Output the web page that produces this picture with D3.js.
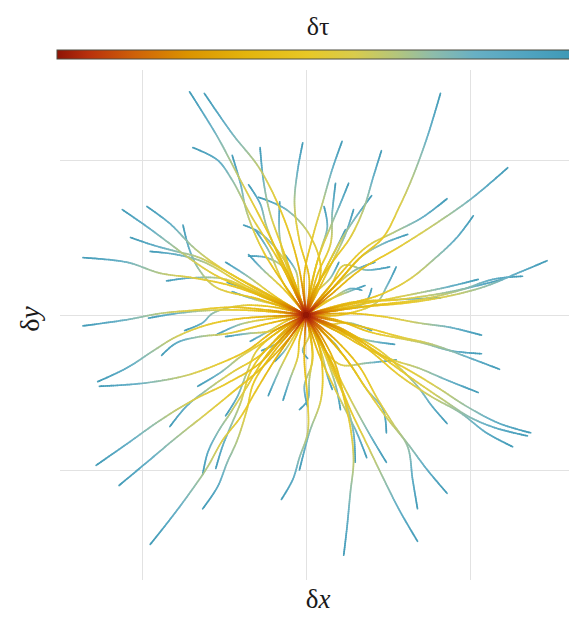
<!DOCTYPE html>
<html>
<head>
<meta charset="utf-8">
<script src="https://cdn.jsdelivr.net/npm/d3@7"></script>
<style>
  body { margin: 0; background: #fff; }
  svg { display: block; }
</style>
</head>
<body>
<script>
// Grid ticks (same on both axes, no labels drawn)
const gridTicks = [-1, 0, 1];

// Colour map for the elapsed time δτ (0 = start, 1 = end of a trajectory)
const tauStops  = [0, 0.06, 0.15, 0.25, 0.36, 0.48, 0.57, 0.65, 0.72, 0.80, 0.90, 1];
const tauColors = ["#8e1406", "#b8300c", "#cf6208", "#db9300", "#e3b40c", "#e8c826",
                   "#d9cc4c", "#b4c67c", "#8ebcaa", "#68b0c4", "#50a4c0", "#3b97b4"];

// Elapsed time against the fraction of path length covered (fast start, slow end)
const pathFraction = [0, 0.08, 0.18, 0.55, 0.78, 1];
const tauAtFraction = [0, 0.2, 0.36, 0.56, 0.76, 1];

// Trajectories: displacement (δx, δy) sampled along each path, starting from the origin.
const tracksNW = [
  [[-0.12,0.29],[-0.26,0.59],[-0.40,0.87],[-0.54,1.15],[-0.71,1.44]],
  [[-0.04,0.29],[-0.13,0.61],[-0.28,0.94],[-0.45,1.17],[-0.62,1.43]],
  [[-0.16,0.34],[-0.34,0.65],[-0.45,0.87],[-0.54,1.00],[-0.69,1.08]],
  [[-0.25,0.39],[-0.36,0.66],[-0.40,0.85],[-0.45,1.03]],
  [[-0.13,0.39],[-0.22,0.66],[-0.26,0.87],[-0.28,1.08]],
  [[0.02,0.23],[-0.04,0.48],[-0.07,0.72],[-0.05,0.94],[-0.02,1.11]],
  [[-0.13,0.29],[-0.24,0.57],[-0.28,0.72],[-0.35,0.84]],
  [[0.09,0.29],[0.02,0.52],[-0.12,0.68],[-0.29,0.76]],
  [[-0.10,0.26],[-0.16,0.50],[-0.16,0.73]],
  [[-0.13,0.35],[-0.28,0.53],[-0.38,0.58]],
  [[-0.12,0.29],[-0.24,0.37],[-0.35,0.38]],
  [[-0.28,0.13],[-0.54,0.25],[-0.69,0.35],[-0.83,0.46],[-0.97,0.57],[-1.12,0.68]],
  [[-0.34,0.19],[-0.57,0.34],[-0.69,0.44],[-0.83,0.59],[-0.97,0.70]],
  [[-0.40,0.23],[-0.65,0.37],[-0.79,0.41],[-0.93,0.45],[-1.07,0.50]],
  [[-0.28,0.10],[-0.55,0.18],[-0.65,0.29],[-0.71,0.42],[-0.75,0.58]],
  [[-0.22,0.10],[-0.46,0.19],[-0.69,0.24],[-0.89,0.27],[-1.09,0.34],[-1.36,0.37]],
  [[-0.37,0.19],[-0.62,0.34],[-0.79,0.39],[-0.95,0.41]],
  [[-0.25,0.11],[-0.49,0.23],[-0.69,0.24],[-0.85,0.22]],
  [[-0.16,0.08],[-0.34,0.16],[-0.48,0.21]],
  [[-0.13,0.19],[-0.23,0.42],[-0.31,0.55]],
  [[-0.16,0.10],[-0.37,0.26],[-0.49,0.34]]
];

const tracksNE = [
  [[0.15,0.16],[0.33,0.37],[0.47,0.50],[0.57,0.70],[0.65,0.89],[0.74,1.15],[0.82,1.43]],
  [[0.15,0.13],[0.33,0.29],[0.57,0.44],[0.82,0.61],[1.02,0.76],[1.23,0.95]],
  [[0.18,0.23],[0.37,0.44],[0.53,0.53],[0.71,0.63],[0.86,0.75]],
  [[0.21,0.06],[0.45,0.13],[0.63,0.23],[0.77,0.35],[0.92,0.50],[1.02,0.64]],
  [[0.33,0.05],[0.63,0.08],[0.86,0.12],[1.08,0.18],[1.29,0.27],[1.47,0.35]],
  [[0.39,0.06],[0.70,0.10],[0.94,0.16],[1.14,0.23],[1.32,0.25]],
  [[0.33,0.08],[0.57,0.10],[0.88,0.15],[1.20,0.23]],
  [[0.39,0.08],[0.63,0.13],[0.86,0.18],[1.05,0.23]],
  [[-0.01,0.26],[0.04,0.50],[0.10,0.72],[0.16,0.94],[0.22,1.12]],
  [[0.05,0.16],[0.16,0.34],[0.27,0.50],[0.35,0.68],[0.41,0.89],[0.46,1.06]],
  [[0.07,0.35],[0.15,0.57],[0.21,0.72],[0.26,0.85]],
  [[0.07,0.26],[0.15,0.46],[0.16,0.66],[0.18,0.85]],
  [[0.09,0.23],[0.19,0.44],[0.29,0.61],[0.40,0.77]],
  [[0.04,0.23],[0.09,0.42],[0.13,0.57],[0.11,0.70]],
  [[0.18,0.19],[0.33,0.37],[0.47,0.46],[0.62,0.52]],
  [[0.15,0.19],[0.23,0.32],[0.37,0.29],[0.51,0.31]],
  [[0.21,0.00],[0.43,0.08],[0.49,0.18],[0.55,0.31]],
  [[0.18,0.03],[0.36,0.08],[0.40,0.17]],
  [[0.15,0.32],[0.24,0.52],[0.29,0.68]],
  [[0.27,0.08],[0.57,0.10],[0.82,0.11]],
  [[0.15,0.16],[0.30,0.29],[0.42,0.34]],
  [[0.07,0.19],[0.18,0.42],[0.24,0.55]]
];

const tracksSW = [
  [[-0.22,0.03],[-0.46,0.05],[-0.69,0.03],[-0.89,0.01],[-1.09,-0.03],[-1.36,-0.07]],
  [[-0.34,0.03],[-0.59,0.03],[-0.79,0.01],[-0.96,-0.02]],
  [[-0.19,0.05],[-0.40,0.06],[-0.57,0.01],[-0.63,-0.05],[-0.74,-0.10]],
  [[-0.37,-0.02],[-0.59,-0.06],[-0.79,-0.14],[-0.93,-0.23],[-1.09,-0.34],[-1.27,-0.43]],
  [[-0.19,-0.10],[-0.36,-0.23],[-0.52,-0.31],[-0.73,-0.39],[-0.99,-0.44],[-1.26,-0.46]],
  [[-0.25,-0.06],[-0.48,-0.12],[-0.65,-0.14],[-0.79,-0.18],[-0.88,-0.26]],
  [[-0.20,-0.10],[-0.36,-0.12],[-0.49,-0.14]],
  [[-0.13,-0.08],[-0.28,-0.19],[-0.40,-0.27],[-0.52,-0.37],[-0.66,-0.46]],
  [[-0.13,-0.10],[-0.28,-0.26],[-0.45,-0.37],[-0.60,-0.48],[-0.73,-0.59],[-0.83,-0.72]],
  [[-0.13,-0.13],[-0.28,-0.31],[-0.48,-0.44],[-0.69,-0.55],[-0.89,-0.68],[-1.09,-0.83],[-1.28,-0.97]],
  [[-0.11,-0.16],[-0.28,-0.35],[-0.45,-0.50],[-0.60,-0.63],[-0.79,-0.79],[-0.97,-0.95],[-1.14,-1.10]],
  [[-0.19,-0.29],[-0.30,-0.48],[-0.40,-0.66],[-0.51,-0.81],[-0.60,-0.98],[-0.71,-1.15],[-0.83,-1.32],[-0.95,-1.48]],
  [[-0.19,-0.23],[-0.32,-0.44],[-0.36,-0.61],[-0.42,-0.81],[-0.48,-0.95],[-0.54,-1.11],[-0.63,-1.25]],
  [[-0.22,-0.23],[-0.37,-0.48],[-0.46,-0.63],[-0.54,-0.76],[-0.60,-0.89],[-0.63,-1.03]],
  [[-0.25,-0.23],[-0.34,-0.37],[-0.40,-0.57],[-0.46,-0.72],[-0.51,-0.85],[-0.55,-0.99]],
  [[-0.16,-0.10],[-0.30,-0.23],[-0.36,-0.37],[-0.42,-0.53],[-0.49,-0.65]],
  [[-0.01,-0.29],[0.01,-0.55],[0.01,-0.76],[-0.04,-0.92],[-0.08,-1.06],[-0.15,-1.19]],
  [[-0.04,-0.16],[-0.05,-0.27],[-0.10,-0.42],[-0.14,-0.55]],
  [[0.04,-0.23],[0.02,-0.42],[0.01,-0.55],[-0.04,-0.61]],
  [[-0.07,-0.16],[-0.16,-0.35],[-0.23,-0.52]],
  [[-0.19,-0.02],[-0.40,-0.06],[-0.55,-0.13]]
];

const tracksSE = [
  [[0.27,0.01],[0.47,-0.01],[0.68,-0.05],[0.88,-0.08],[1.07,-0.13]],
  [[0.18,-0.03],[0.39,-0.11],[0.57,-0.15],[0.71,-0.18],[0.88,-0.23],[1.07,-0.25]],
  [[0.36,-0.08],[0.57,-0.14],[0.77,-0.19],[0.98,-0.27],[1.18,-0.35]],
  [[0.18,-0.10],[0.36,-0.21],[0.53,-0.29],[0.68,-0.34],[0.86,-0.42],[1.05,-0.50]],
  [[0.27,-0.12],[0.45,-0.23],[0.57,-0.34],[0.68,-0.46],[0.77,-0.59],[0.86,-0.70]],
  [[0.27,-0.13],[0.48,-0.27],[0.65,-0.37],[0.82,-0.48],[0.98,-0.59],[1.18,-0.70],[1.37,-0.76]],
  [[0.24,-0.10],[0.45,-0.26],[0.66,-0.42],[0.84,-0.55],[1.00,-0.66],[1.16,-0.73],[1.35,-0.78]],
  [[0.21,-0.10],[0.39,-0.23],[0.57,-0.39],[0.77,-0.53],[0.94,-0.63],[1.10,-0.76],[1.26,-0.85]],
  [[0.12,-0.13],[0.25,-0.29],[0.37,-0.48],[0.49,-0.66],[0.62,-0.83],[0.74,-1.00],[0.86,-1.15]],
  [[0.18,-0.16],[0.33,-0.34],[0.43,-0.53],[0.53,-0.70],[0.62,-0.85],[0.65,-1.06],[0.68,-1.25]],
  [[0.12,-0.23],[0.19,-0.40],[0.27,-0.61],[0.37,-0.83],[0.47,-1.05],[0.57,-1.26],[0.68,-1.46]],
  [[0.09,-0.13],[0.18,-0.32],[0.23,-0.53],[0.27,-0.72],[0.29,-0.94],[0.27,-1.15],[0.25,-1.37],[0.23,-1.55]],
  [[0.15,-0.16],[0.27,-0.32],[0.37,-0.48],[0.47,-0.61],[0.49,-0.76]],
  [[0.15,-0.29],[0.24,-0.48],[0.33,-0.66],[0.41,-0.81],[0.49,-0.95]],
  [[0.07,-0.23],[0.15,-0.42],[0.23,-0.59],[0.31,-0.76],[0.37,-0.92]],
  [[0.09,-0.16],[0.16,-0.35],[0.24,-0.55],[0.29,-0.76],[0.30,-0.95]],
  [[0.07,-0.16],[0.10,-0.35],[0.09,-0.55],[0.02,-0.76],[-0.04,-1.00]],
  [[0.04,-0.29],[-0.01,-0.46],[0.01,-0.59]],
  [[0.09,-0.23],[0.13,-0.39],[0.16,-0.48]],
  [[0.02,-0.13],[-0.02,-0.23],[0.01,-0.28]],
  [[0.09,-0.19],[0.21,-0.32],[0.37,-0.31],[0.55,-0.29]],
  [[0.18,-0.10],[0.36,-0.16],[0.54,-0.19]],
  [[0.09,-0.19],[0.18,-0.45],[0.21,-0.61]]
];

// Trajectories that stay close to the origin
const tracksCore = [
  [[-0.13,0.16],[-0.27,0.30],[-0.35,0.39]],
  [[0.15,0.10],[0.27,0.17],[0.34,0.16]],
  [[0.09,-0.10],[0.18,-0.19],[0.21,-0.24]],
  [[-0.07,-0.13],[-0.13,-0.23],[-0.19,-0.30]],
  [[-0.16,0.06],[-0.31,0.10],[-0.45,0.15]],
  [[0.12,-0.06],[0.26,-0.05],[0.40,-0.10]],
  [[-0.04,0.13],[-0.06,0.28],[-0.13,0.39]],
  [[0.05,0.13],[0.15,0.24],[0.20,0.34]],
  [[-0.10,-0.03],[-0.22,-0.10],[-0.34,-0.17]],
  [[0.07,0.06],[0.21,0.13],[0.36,0.19]],
  [[-0.07,-0.05],[-0.13,-0.15],[-0.27,-0.23]]
];

const origin = [0, 0];
const allTracks = [...tracksNW, ...tracksNE, ...tracksSW, ...tracksSE, ...tracksCore];

const W = 569, H = 618;
const panel = { left: 60, right: 600, top: 70, bottom: 580 };

const svg = d3.select("body").append("svg")
  .attr("width", W).attr("height", H)
  .style("font-family", "'Liberation Serif', 'DejaVu Serif', serif");

const x = d3.scaleLinear().domain([-1, 1]).range([142, 470]);
const y = d3.scaleLinear().domain([-1, 1]).range([470, 160]);
const color = d3.scaleLinear().domain(tauStops).range(tauColors).clamp(true);
const tauOf = d3.scaleLinear().domain(pathFraction).range(tauAtFraction).clamp(true);
const tauX = d3.scaleLinear().domain([0, 1]).range([57, 579]);

// ----- grid -----
const grid = svg.append("g").attr("stroke", "#e2e2e2").attr("stroke-width", 1);
grid.selectAll(".gv").data(gridTicks).join("line").attr("class", "gv")
  .attr("x1", d => x(d) + 0.5).attr("x2", d => x(d) + 0.5)
  .attr("y1", panel.top).attr("y2", panel.bottom);
grid.selectAll(".gh").data(gridTicks).join("line").attr("class", "gh")
  .attr("y1", d => y(d) + 0.5).attr("y2", d => y(d) + 0.5)
  .attr("x1", panel.left).attr("x2", panel.right);

// ----- trajectories, coloured by elapsed time along each path -----
const line = d3.line()
  .x(d => x(d[0])).y(d => y(d[1]))
  .curve(d3.curveCatmullRom.alpha(0.5));

const scratch = svg.append("path").attr("fill", "none").attr("visibility", "hidden");
const segs = [];
allTracks.forEach(tr => {
  scratch.attr("d", line([origin, ...tr]));
  const node = scratch.node();
  const L = node.getTotalLength();
  const n = Math.max(10, Math.ceil(L / 2));
  let prev = node.getPointAtLength(0);
  for (let i = 1; i <= n; i++) {
    const p = node.getPointAtLength(L * i / n);
    segs.push({ x1: prev.x, y1: prev.y, x2: p.x, y2: p.y, t: tauOf((i - 0.5) / n) });
    prev = p;
  }
});
scratch.remove();
// late (blue) parts underneath, early (red) parts on top
segs.sort((a, b) => b.t - a.t);

svg.append("g")
  .attr("stroke-width", 1.7)
  .attr("stroke-linecap", "round")
  .attr("stroke-opacity", 0.9)
  .selectAll("line").data(segs).join("line")
  .attr("x1", d => d.x1).attr("y1", d => d.y1)
  .attr("x2", d => d.x2).attr("y2", d => d.y2)
  .attr("stroke", d => color(d.t));

// ----- colour bar -----
const defs = svg.append("defs");
const grad = defs.append("linearGradient").attr("id", "tauGrad")
  .attr("x1", "0%").attr("x2", "100%").attr("y1", "0%").attr("y2", "0%");
grad.selectAll("stop").data(tauStops).join("stop")
  .attr("offset", d => (d * 100) + "%")
  .attr("stop-color", d => color(d));

svg.append("rect")
  .attr("x", tauX(0)).attr("y", 50)
  .attr("width", tauX(1) - tauX(0)).attr("height", 9)
  .attr("fill", "url(#tauGrad)")
  .attr("stroke", "#4d4d40").attr("stroke-width", 1);

svg.append("text")
  .attr("x", tauX(0.5)).attr("y", 35)
  .attr("text-anchor", "middle")
  .attr("font-size", 26).attr("fill", "#1a1a1a")
  .text("δτ");

// ----- axis titles -----
const xt = svg.append("text")
  .attr("x", 318).attr("y", 608)
  .attr("text-anchor", "middle")
  .attr("font-size", 27).attr("fill", "#1a1a1a");
xt.append("tspan").text("δ");
xt.append("tspan").attr("font-style", "italic").text("x");

const yt = svg.append("text")
  .attr("transform", "translate(39,319) rotate(-90)")
  .attr("text-anchor", "middle")
  .attr("font-size", 28).attr("fill", "#1a1a1a");
yt.append("tspan").text("δ");
yt.append("tspan").attr("font-style", "italic").text("y");
</script>
</body>
</html>
